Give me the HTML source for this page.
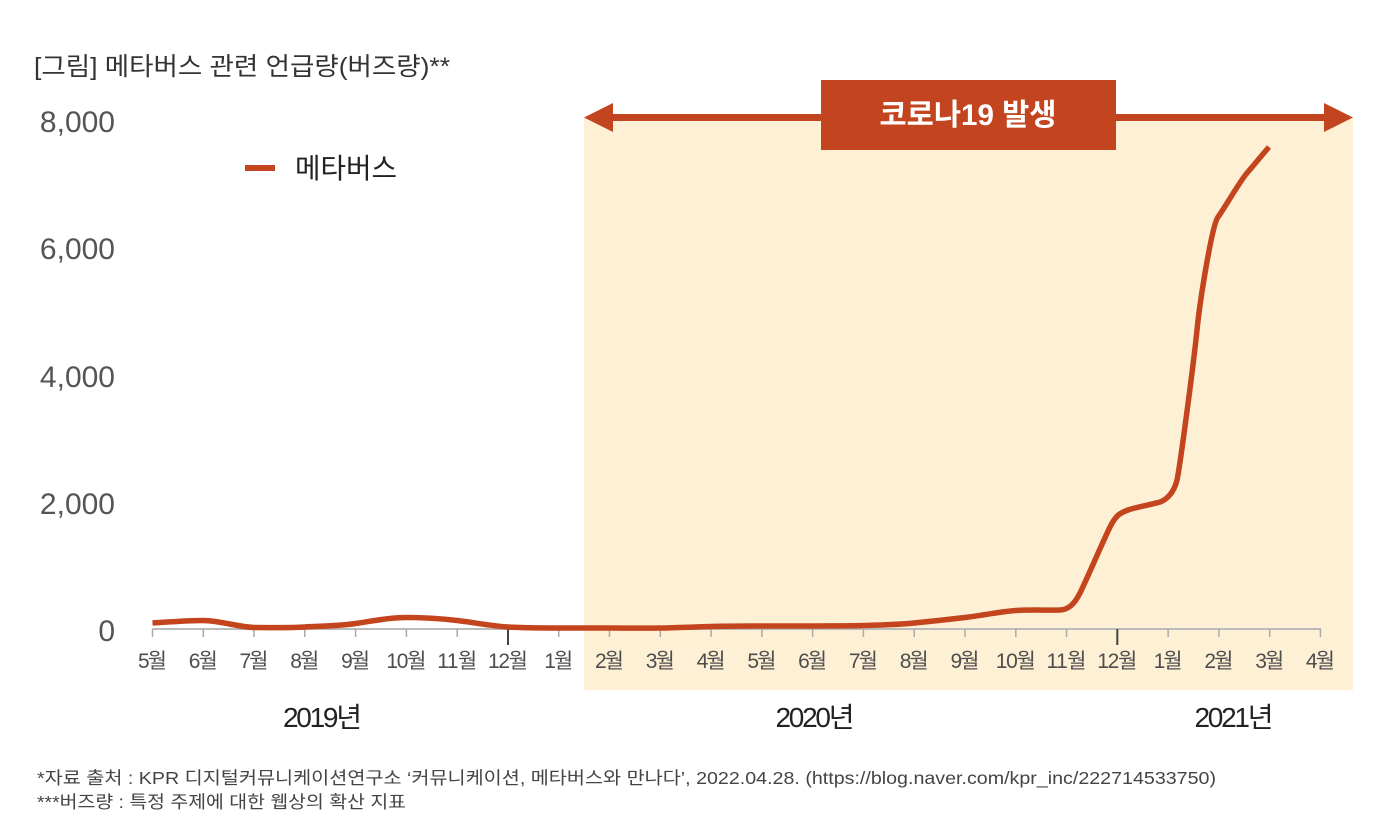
<!DOCTYPE html>
<html>
<head>
<meta charset="utf-8">
<style>
  html, body { margin: 0; padding: 0; background: #ffffff; }
  svg { display: block; }
  text { font-family: "Liberation Sans", "Noto Sans CJK KR", "NanumGothic", sans-serif; }
</style>
</head>
<body>
<svg width="1386" height="832" viewBox="0 0 1386 832" xmlns="http://www.w3.org/2000/svg">
  <rect x="0" y="0" width="1386" height="832" fill="#ffffff"/>

  <!-- shaded covid region -->
  <rect x="584" y="117" width="769" height="573" fill="#FEF0D4"/>

  <!-- title -->
  <text x="34" y="75" font-size="25" fill="#333333" textLength="416" lengthAdjust="spacingAndGlyphs">[그림] 메타버스 관련 언급량(버즈량)**</text>

  <!-- y-axis labels -->
  <g font-size="30" fill="#555555" text-anchor="end">
    <text x="115" y="132">8,000</text>
    <text x="115" y="259">6,000</text>
    <text x="115" y="387">4,000</text>
    <text x="115" y="514">2,000</text>
    <text x="115" y="641">0</text>
  </g>

  <!-- legend -->
  <line x1="245" y1="168" x2="275" y2="168" stroke="#C4441E" stroke-width="6"/>
  <text x="295" y="178" font-size="28" fill="#222222" textLength="102" lengthAdjust="spacingAndGlyphs">메타버스</text>

  <!-- arrow -->
  <rect x="612" y="114" width="713" height="7" fill="#C2451F"/>
  <polygon points="584,117.5 613,103 613,132" fill="#C2451F"/>
  <polygon points="1353,117.5 1324,103 1324,132" fill="#C2451F"/>

  <!-- badge -->
  <rect x="821" y="80" width="295" height="70" fill="#C2451F"/>
  <text x="968" y="125" font-size="30" font-weight="bold" fill="#ffffff" text-anchor="middle" textLength="177" lengthAdjust="spacingAndGlyphs">코로나19 발생</text>

  <!-- x axis -->
  <line x1="152.5" y1="629" x2="1321" y2="629" stroke="#BBBBBB" stroke-width="2"/>
  <g stroke="#AAAAAA" stroke-width="1.5">
    <line x1="152.5" y1="629" x2="152.5" y2="637"/>
    <line x1="203.3" y1="629" x2="203.3" y2="637"/>
    <line x1="254" y1="629" x2="254" y2="637"/>
    <line x1="304.8" y1="629" x2="304.8" y2="637"/>
    <line x1="355.6" y1="629" x2="355.6" y2="637"/>
    <line x1="406.4" y1="629" x2="406.4" y2="637"/>
    <line x1="457.2" y1="629" x2="457.2" y2="637"/>
    <line x1="558.7" y1="629" x2="558.7" y2="637"/>
    <line x1="609.5" y1="629" x2="609.5" y2="637"/>
    <line x1="660.3" y1="629" x2="660.3" y2="637"/>
    <line x1="711.1" y1="629" x2="711.1" y2="637"/>
    <line x1="761.9" y1="629" x2="761.9" y2="637"/>
    <line x1="812.6" y1="629" x2="812.6" y2="637"/>
    <line x1="863.4" y1="629" x2="863.4" y2="637"/>
    <line x1="914.2" y1="629" x2="914.2" y2="637"/>
    <line x1="965" y1="629" x2="965" y2="637"/>
    <line x1="1015.8" y1="629" x2="1015.8" y2="637"/>
    <line x1="1066.5" y1="629" x2="1066.5" y2="637"/>
    <line x1="1168.1" y1="629" x2="1168.1" y2="637"/>
    <line x1="1218.9" y1="629" x2="1218.9" y2="637"/>
    <line x1="1269.7" y1="629" x2="1269.7" y2="637"/>
    <line x1="1320.4" y1="629" x2="1320.4" y2="637"/>
  </g>
  <g stroke="#444444" stroke-width="2">
    <line x1="508" y1="629" x2="508" y2="645"/>
    <line x1="1117.3" y1="629" x2="1117.3" y2="645"/>
  </g>

  <!-- month labels -->
  <g font-size="21" fill="#4d4d4d" text-anchor="middle" lengthAdjust="spacingAndGlyphs">
    <text x="152.5" y="668" textLength="29">5월</text>
    <text x="203.3" y="668" textLength="29">6월</text>
    <text x="254" y="668" textLength="29">7월</text>
    <text x="304.8" y="668" textLength="29">8월</text>
    <text x="355.6" y="668" textLength="29">9월</text>
    <text x="406.4" y="668" textLength="40">10월</text>
    <text x="457.2" y="668" textLength="40">11월</text>
    <text x="508" y="668" textLength="40">12월</text>
    <text x="558.7" y="668" textLength="29">1월</text>
    <text x="609.5" y="668" textLength="29">2월</text>
    <text x="660.3" y="668" textLength="29">3월</text>
    <text x="711.1" y="668" textLength="29">4월</text>
    <text x="761.9" y="668" textLength="29">5월</text>
    <text x="812.6" y="668" textLength="29">6월</text>
    <text x="863.4" y="668" textLength="29">7월</text>
    <text x="914.2" y="668" textLength="29">8월</text>
    <text x="965" y="668" textLength="29">9월</text>
    <text x="1015.8" y="668" textLength="40">10월</text>
    <text x="1066.5" y="668" textLength="40">11월</text>
    <text x="1117.3" y="668" textLength="40">12월</text>
    <text x="1168.1" y="668" textLength="29">1월</text>
    <text x="1218.9" y="668" textLength="29">2월</text>
    <text x="1269.7" y="668" textLength="29">3월</text>
    <text x="1320.4" y="668" textLength="29">4월</text>
  </g>

  <!-- year labels -->
  <g font-size="28" fill="#222222" text-anchor="middle" lengthAdjust="spacingAndGlyphs">
    <text x="322.5" y="727" textLength="79">2019년</text>
    <text x="815" y="727" textLength="79">2020년</text>
    <text x="1234" y="727" textLength="79">2021년</text>
  </g>

  <!-- data line -->
  <path fill="none" stroke="#C4441E" stroke-width="5.5" stroke-linejoin="round" stroke-linecap="butt"
    d="M 152.5 623
       C 169.5 622, 186.3 620.5, 203.3 620.5
       S 239 627.5, 256 627.5
       S 287.8 628, 304.8 627
       S 338.6 626, 355.6 623.5
       S 389.4 617.5, 406.4 617.5
       S 440.2 618.5, 457.2 620.5
       S 491 626, 508 627
       S 541.7 628, 558.7 628
       S 592.5 628, 609.5 628
       S 643.3 628.3, 660.3 628
       S 694.1 626.9, 711.1 626.5
       S 744.9 626.1, 761.9 626
       S 795.6 626.2, 812.6 626
       S 846.4 626, 863.4 625.5
       S 897.2 624.8, 914.2 623
       S 948 619.5, 965 617.5
       S 1000.8 611.5, 1015.8 610.5
       S 1052 610.5, 1060 610
       S 1074 605, 1080 593
       S 1104 539, 1110 527
       S 1120 513, 1128 510
       S 1154 504, 1160 502
       S 1174 493, 1177 480
       S 1194 360, 1197 330
       S 1212 225, 1218 217
       S 1240 181, 1247 173
       S 1262 155, 1269 147"/>

  <!-- footnotes -->
  <text x="37" y="784" font-size="17.5" fill="#444444" textLength="1179" lengthAdjust="spacingAndGlyphs">*자료 출처 : KPR 디지털커뮤니케이션연구소 ‘커뮤니케이션, 메타버스와 만나다’, 2022.04.28. (https://blog.naver.com/kpr_inc/222714533750)</text>
  <text x="37" y="808" font-size="17.5" fill="#444444" textLength="369" lengthAdjust="spacingAndGlyphs">***버즈량 : 특정 주제에 대한 웹상의 확산 지표</text>
</svg>
</body>
</html>
